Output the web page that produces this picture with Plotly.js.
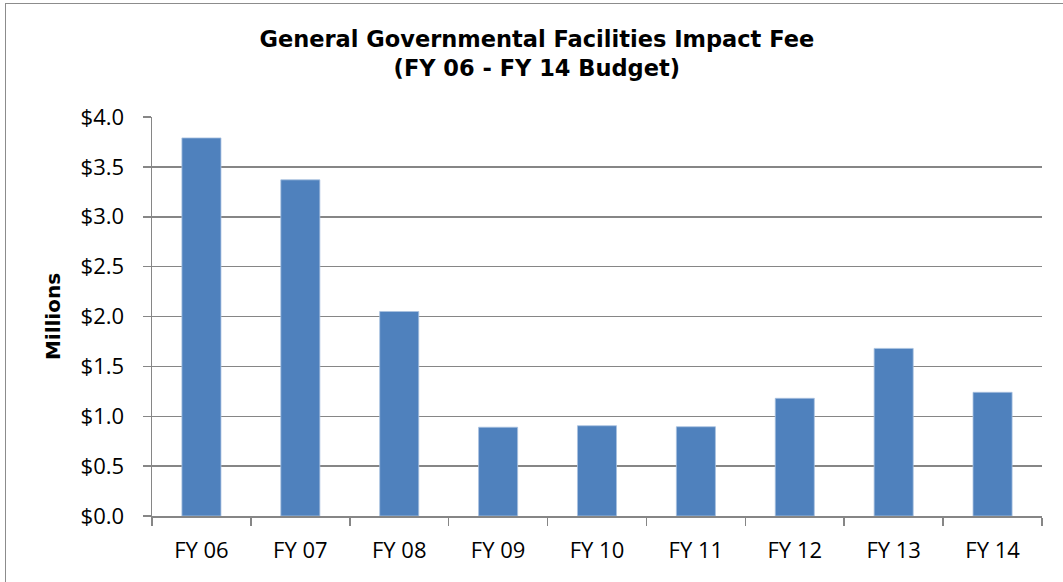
<!DOCTYPE html>
<html>
<head>
<meta charset="utf-8">
<script src="https://cdn.plot.ly/plotly-3.0.1.min.js"></script>
<style>
  html, body { margin: 0; padding: 0; background: #fff; overflow: hidden; }
  #frame { position: absolute; left: 5px; top: 3px; width: 1200px; height: 700px;
           border-left: 1px solid #8c8c8c; border-top: 1px solid #8c8c8c; pointer-events: none; }
  #chart { width: 1063px; height: 582px; }
</style>
</head>
<body>
<div id="chart"></div>
<div id="frame"></div>
<script>
const categories = ["FY 06", "FY 07", "FY 08", "FY 09", "FY 10", "FY 11", "FY 12", "FY 13", "FY 14"];
const feeMillions = [3.79, 3.37, 2.05, 0.89, 0.905, 0.895, 1.18, 1.68, 1.24];
const yTickValues = [0, 0.5, 1, 1.5, 2, 2.5, 3, 3.5, 4];
const yTickLabels = ["$0.0", "$0.5", "$1.0", "$1.5", "$2.0", "$2.5", "$3.0", "$3.5", "$4.0"];

const trace = {
  type: "bar",
  x: categories,
  y: feeMillions,
  marker: { color: "#4F81BD", line: { color: "#a9c1e0", width: 0.8 } },
  hoverinfo: "x+y"
};

const layout = {
  width: 1063,
  height: 582,
  margin: { l: 152, r: 21, t: 117, b: 66 },
  paper_bgcolor: "#ffffff",
  plot_bgcolor: "#ffffff",
  showlegend: false,
  bargap: 0.605,
  title: {
    text: "General Governmental Facilities Impact Fee<br>(FY 06 - FY 14 Budget)",
    font: { family: "DejaVu Sans", size: 22.5, color: "#000000", weight: "bold" },
    x: 0.505, xref: "container", xanchor: "center",
    y: 0.92, yref: "container", yanchor: "middle"
  },
  xaxis: {
    type: "category",
    tickson: "boundaries",
    ticks: "outside",
    ticklen: 8,
    tickcolor: "#868686",
    tickwidth: 1.5,
    showline: true,
    linecolor: "#868686",
    linewidth: 1.5,
    showgrid: false,
    ticklabelstandoff: 14,
    tickfont: { family: "Open Sans", size: 22, color: "#000000" },
    fixedrange: true
  },
  yaxis: {
    range: [0, 4],
    tickmode: "array",
    tickvals: yTickValues,
    ticktext: yTickLabels,
    ticks: "outside",
    ticklen: 8,
    tickcolor: "#868686",
    tickwidth: 1.5,
    showline: true,
    linecolor: "#868686",
    linewidth: 1.5,
    showgrid: true,
    gridcolor: "#868686",
    gridwidth: 1.5,
    zeroline: false,
    ticklabelstandoff: 14,
    tickfont: { family: "Open Sans", size: 22, color: "#000000" },
    title: {
      text: "Millions",
      font: { family: "DejaVu Sans", size: 20, color: "#000000", weight: "bold" },
      standoff: 14
    },
    fixedrange: true
  }
};

Plotly.newPlot("chart", [trace], layout, { displayModeBar: false, staticPlot: true });
</script>
</body>
</html>
